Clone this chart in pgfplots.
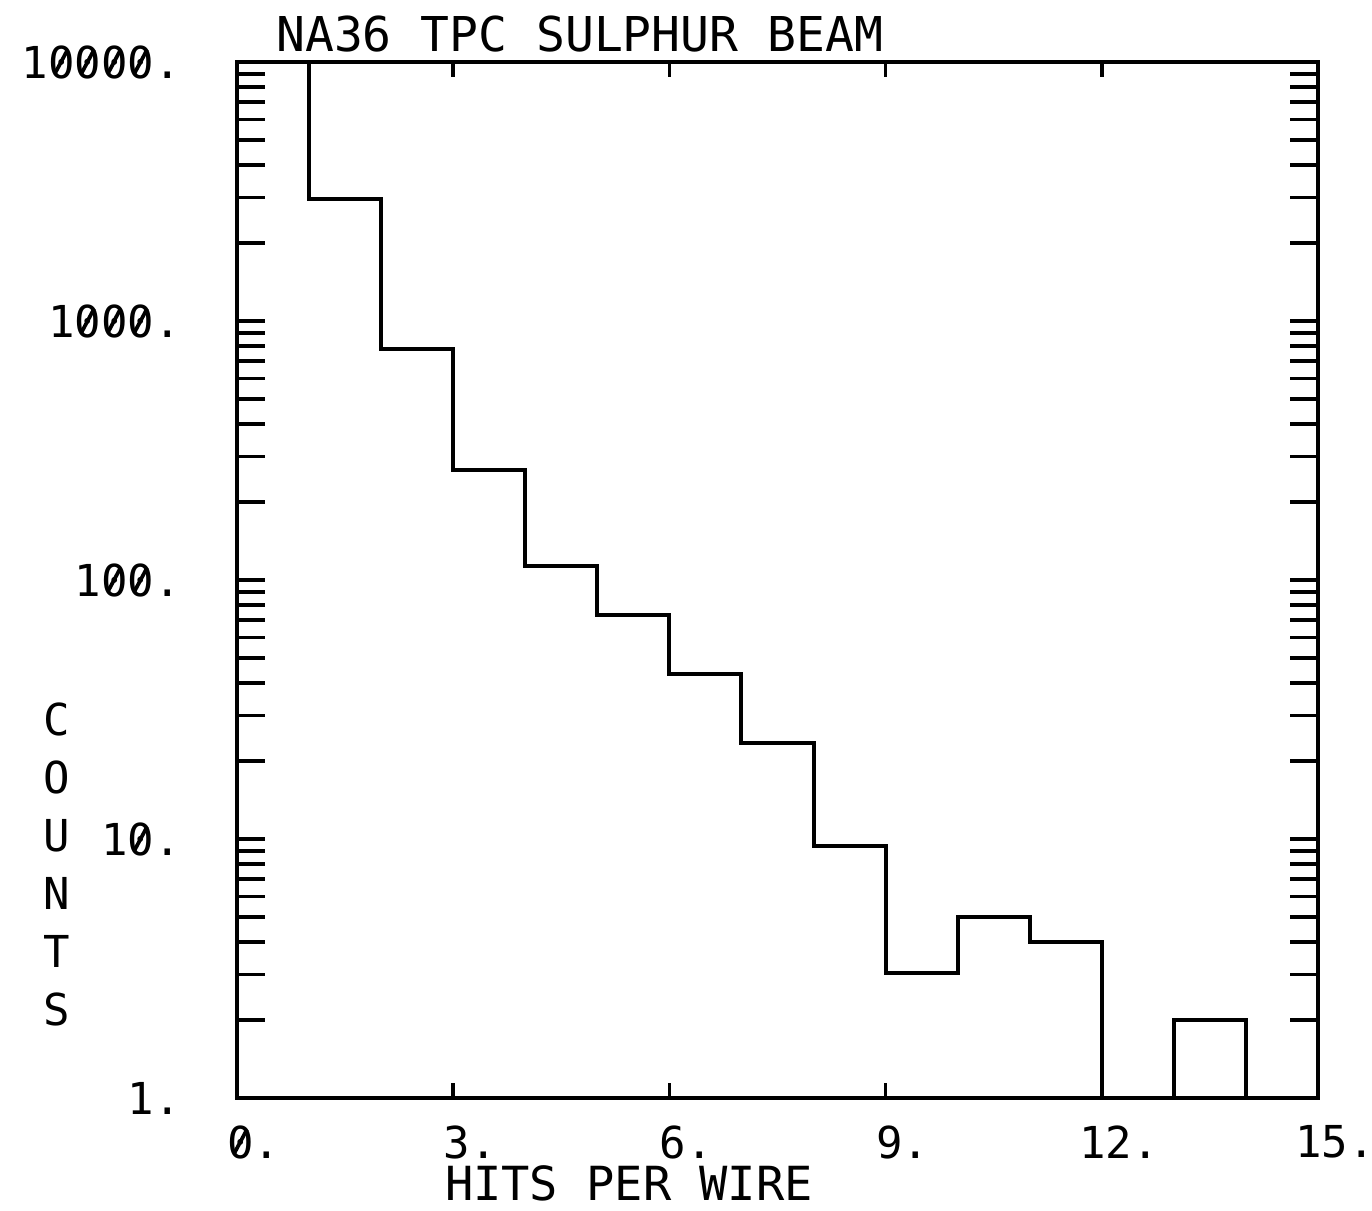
\documentclass[border=0pt]{standalone}
\usepackage{pgfplots}
\pgfplotsset{compat=1.18}
\usepackage{graphicx}
\usepackage{fontspec}
\setmainfont{DejaVu Sans Mono}
\newcommand\z{\ooalign{0\cr\hidewidth\raisebox{0.1em}{\rotatebox{62}{\rule{0.6em}{0.085em}}}\hidewidth\cr}}
\begin{document}
\begin{tikzpicture}
\begin{axis}[
  scale only axis, width=540.5pt, height=518pt,
  xmin=0, xmax=15, ymin=1, ymax=10000, ymode=log,
  clip=false,
  axis line style={line width=2.1pt},
  tick align=inside, tick pos=both,
  major tick length=7.5pt, minor tick length=14pt,
  xtick={0,3,6,9,12,15}, xticklabels={{\z.},3.,6.,9.,12.,15.},
  minor xtick={},
  ytick={1,10,100,1000,10000},
  yticklabels={1.,{1\z.},{1\z\z.},{1\z\z\z.},{1\z\z\z\z.}},
  minor ytick={2,3,4,5,6,7,8,9,10,20,30,40,50,60,70,80,90,100,200,300,400,500,600,700,800,900,1000,2000,3000,4000,5000,6000,7000,8000,9000},
  every tick/.style={black, line width=1.8pt},
  ticklabel style={font=\fontsize{22}{26}\selectfont},
  xticklabel style={anchor=north, inner sep=0pt, text depth=0pt, yshift=-13.5pt, xshift=8.5pt},
  yticklabel style={anchor=east, inner sep=0pt, xshift=-28pt},
]
\addplot[const plot, black, line width=2pt] coordinates {
 (0,10000) (1,2950) (2,780) (3,265) (4,113) (5,73) (6,43.5) (7,23.5)
 (8,9.4) (9,3.05) (10,5.0) (11,4.0) (12,1) (13,2) (14,1)
};
\node[anchor=base, inner sep=0pt, font=\fontsize{24}{28}\selectfont] at (rel axis cs:0.317,1) [yshift=5pt] {NA36 TPC SULPHUR BEAM};
\node[anchor=north, inner sep=0pt, text depth=0pt, font=\fontsize{23.5}{28}\selectfont] at (rel axis cs:0.3626,0) [yshift=-33.5pt] {HITS PER WIRE};
\node[align=center, inner sep=0pt, font=\fontsize{22}{29}\selectfont] at (rel axis cs:-0.1665,0.225) {C\\O\\U\\N\\T\\S};
\end{axis}
\pgfresetboundingbox
\path[use as bounding box] (-118.5pt,-56.5pt) rectangle (567.5pt,549pt);
\end{tikzpicture}
\end{document}
